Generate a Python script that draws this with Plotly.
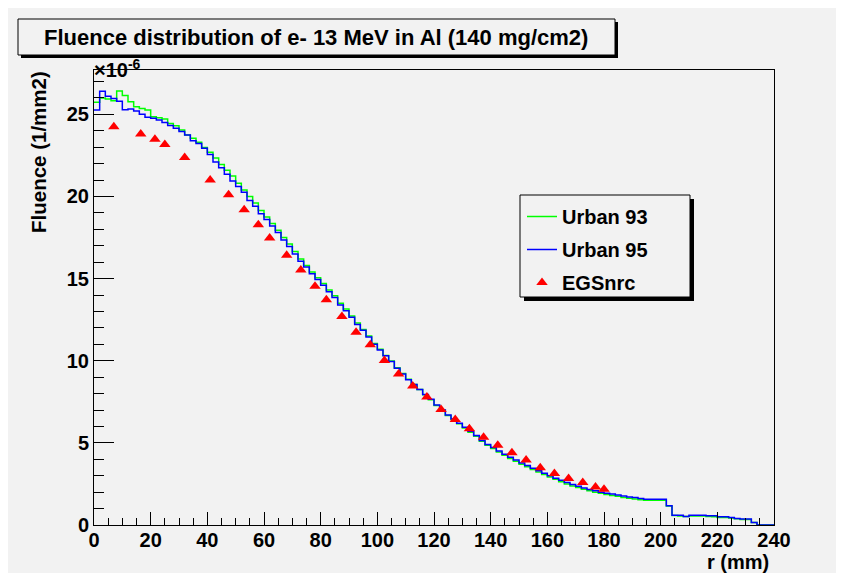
import numpy as np
import plotly.graph_objects as go

# ---------------- data (fluence in units of 1e-6 /mm2) ----------------
bin_width = 2.0  # mm, 120 bins from 0 to 240
urban93 = [25.73, 26.00, 25.93, 25.83, 26.42, 26.14, 25.77, 25.47, 25.36, 25.26,
           24.85, 24.80, 24.71, 24.45, 24.30, 24.05, 23.75, 23.55, 23.30, 22.98,
           22.70, 22.35, 21.95, 21.60, 21.25, 20.80, 20.40, 20.00, 19.60, 19.15,
           18.75, 18.35, 17.95, 17.50, 17.10, 16.65, 16.20, 15.80, 15.40, 15.05,
           14.70, 14.30, 13.95, 13.50, 13.15, 12.72, 12.30, 11.90, 11.50, 11.05,
           10.70, 10.32, 9.98, 9.58, 9.22, 8.88, 8.55, 8.25, 7.93, 7.63,
           7.28, 6.98, 6.67, 6.42, 6.16, 5.90, 5.65, 5.40, 5.10, 4.85,
           4.66, 4.44, 4.24, 4.05, 3.88, 3.70, 3.54, 3.38, 3.22, 3.07,
           2.92, 2.78, 2.64, 2.50, 2.38, 2.28, 2.17, 2.08, 2.00, 1.93,
           1.86, 1.80, 1.75, 1.68, 1.63, 1.58, 1.53, 1.50, 1.50, 1.50,
           1.50, 1.15, 0.58, 0.55, 0.52, 0.55, 0.55, 0.55, 0.52, 0.50,
           0.46, 0.46, 0.43, 0.38, 0.34, 0.34, 0.15, 0.0, 0.0, 0.0]
urban95 = [25.26, 26.40, 26.10, 25.96, 25.80, 25.28, 25.32, 25.20, 25.00, 24.82,
           24.76, 24.66, 24.50, 24.32, 24.15, 23.95, 23.74, 23.40, 23.22, 22.93,
           22.55, 22.10, 21.75, 21.35, 20.95, 20.60, 20.25, 19.75, 19.40, 18.95,
           18.60, 18.20, 17.80, 17.35, 16.95, 16.50, 16.05, 15.70, 15.30, 14.95,
           14.60, 14.20, 13.85, 13.40, 13.05, 12.65, 12.20, 11.85, 11.45, 11.00,
           10.65, 10.30, 9.95, 9.55, 9.20, 8.85, 8.55, 8.25, 7.95, 7.65,
           7.30, 7.00, 6.70, 6.45, 6.20, 5.95, 5.70, 5.45, 5.15, 4.90,
           4.72, 4.50, 4.30, 4.12, 3.95, 3.78, 3.62, 3.45, 3.30, 3.15,
           3.00, 2.85, 2.72, 2.58, 2.46, 2.36, 2.25, 2.16, 2.08, 2.00,
           1.93, 1.88, 1.83, 1.77, 1.71, 1.68, 1.62, 1.57, 1.57, 1.57,
           1.57, 1.17, 0.60, 0.60, 0.52, 0.60, 0.60, 0.60, 0.56, 0.56,
           0.50, 0.50, 0.46, 0.40, 0.36, 0.36, 0.15, 0.0, 0.0, 0.0]
egs_r = [7, 16.5, 21.5, 25, 32, 41, 47.5, 53, 58, 62, 68, 73, 78, 82, 87.5,
         92.5, 97.5, 102.5, 107.5, 112.5, 117.5, 122.5, 127.5, 132.5, 137.5,
         142.5, 147.5, 152.5, 157.5, 162.5, 167.5, 172.5, 177, 180]
egs_v = [24.25, 23.80, 23.48, 23.16, 22.37, 21.00, 20.10, 19.19, 18.28, 17.47,
         16.42, 15.52, 14.53, 13.72, 12.70, 11.74, 10.98, 10.01, 9.20, 8.46,
         7.79, 7.03, 6.43, 5.86, 5.34, 4.85, 4.40, 3.96, 3.49, 3.13,
         2.83, 2.58, 2.32, 2.17]

x_ticks = [0, 20, 40, 60, 80, 100, 120, 140, 160, 180, 200, 220, 240]
y_ticks = [0, 5, 10, 15, 20, 25]

# ---------------- layout geometry ----------------
W, H = 844, 573
L, R, T, B = 86, 78, 62, 56
PW, PH = W - L - R, H - T - B
BG = "#f2f2f2"
FONT = "Liberation Sans"


def px(xp):
    return (xp - L) / PW


def py(yp):
    return (H - B - yp) / PH


def bold(size):
    return dict(family=FONT, size=size, color="black", weight="bold")


edges = np.arange(len(urban95) + 1) * bin_width

fig = go.Figure()
fig.add_trace(go.Scatter(x=edges, y=urban93 + [urban93[-1]], mode="lines",
                         line=dict(color="#00ff00", width=1.5, shape="hv"),
                         name="Urban 93", legendgroup="a"))
fig.add_trace(go.Scatter(x=edges, y=urban95 + [urban95[-1]], mode="lines",
                         line=dict(color="#0000ff", width=1.5, shape="hv"),
                         name="Urban 95", legendgroup="b"))
fig.add_trace(go.Scatter(x=egs_r, y=egs_v, mode="markers",
                         marker=dict(symbol="triangle-up", size=10, color="#ff0000"),
                         name="EGSnrc", legendgroup="c"))

fig.update_layout(
    width=W, height=H,
    margin=dict(l=L, r=R, t=T, b=B),
    paper_bgcolor=BG, plot_bgcolor=BG,
    showlegend=True,
    legend=dict(x=px(514), y=py(189), xanchor="left", yanchor="top",
                bgcolor="rgba(0,0,0,0)", borderwidth=0,
                font=bold(20), tracegroupgap=4, traceorder="grouped"),
    xaxis=dict(range=[0, 240], tickvals=x_ticks, ticks="inside", ticklen=13,
               tickwidth=1, tickcolor="black", showline=True, linecolor="black",
               linewidth=1, mirror=True, showgrid=False, zeroline=False,
               tickfont=bold(20), ticklabelstandoff=-3,
               minor=dict(dtick=5, ticks="inside", ticklen=7, tickcolor="black",
                          showgrid=False)),
    yaxis=dict(range=[0, 27.7], tickvals=y_ticks, ticks="inside", ticklen=20,
               tickwidth=1, tickcolor="black", showline=True, linecolor="black",
               linewidth=1, mirror=True, showgrid=False, zeroline=False,
               tickfont=bold(20),
               minor=dict(dtick=1, ticks="inside", ticklen=10, tickcolor="black",
                          showgrid=False)),
)

# legend box with shadow
fig.add_shape(type="rect", xref="paper", yref="paper",
              x0=px(516), x1=px(686), y0=py(293), y1=py(191),
              fillcolor="black", line=dict(width=0), layer="above")
fig.add_shape(type="rect", xref="paper", yref="paper",
              x0=px(512), x1=px(682), y0=py(289), y1=py(187),
              fillcolor=BG, line=dict(color="black", width=1), layer="above")

# title box with shadow
fig.add_shape(type="rect", xref="paper", yref="paper",
              x0=px(13), x1=px(610), y0=py(50), y1=py(14),
              fillcolor="black", line=dict(width=0))
fig.add_shape(type="rect", xref="paper", yref="paper",
              x0=px(10), x1=px(607), y0=py(47), y1=py(11),
              fillcolor=BG, line=dict(color="black", width=1))

# bottom canvas border
fig.add_shape(type="line", xref="paper", yref="paper",
              x0=px(0), x1=px(W), y0=py(569), y1=py(569),
              line=dict(color="#c8c8c8", width=2))

fig.add_annotation(text="×10<sup>-6</sup>", xref="paper", yref="paper",
                   x=px(84), y=py(75), xanchor="left", yanchor="bottom",
                   showarrow=False, font=bold(20))
fig.add_annotation(text="Fluence distribution of e- 13 MeV in Al (140 mg/cm2)",
                   xref="paper", yref="paper", x=px(308), y=py(29),
                   xanchor="center", yanchor="middle", showarrow=False,
                   font=bold(22))
fig.add_annotation(text="Fluence (1/mm2)", xref="paper", yref="paper",
                   x=px(30), y=py(61), xanchor="center", yanchor="top",
                   textangle=-90, showarrow=False, font=bold(20.5))
fig.add_annotation(text="r (mm)", xref="paper", yref="paper",
                   x=px(763), y=py(554), xanchor="right", yanchor="middle",
                   showarrow=False, font=bold(20))

fig.write_html("out.html")
